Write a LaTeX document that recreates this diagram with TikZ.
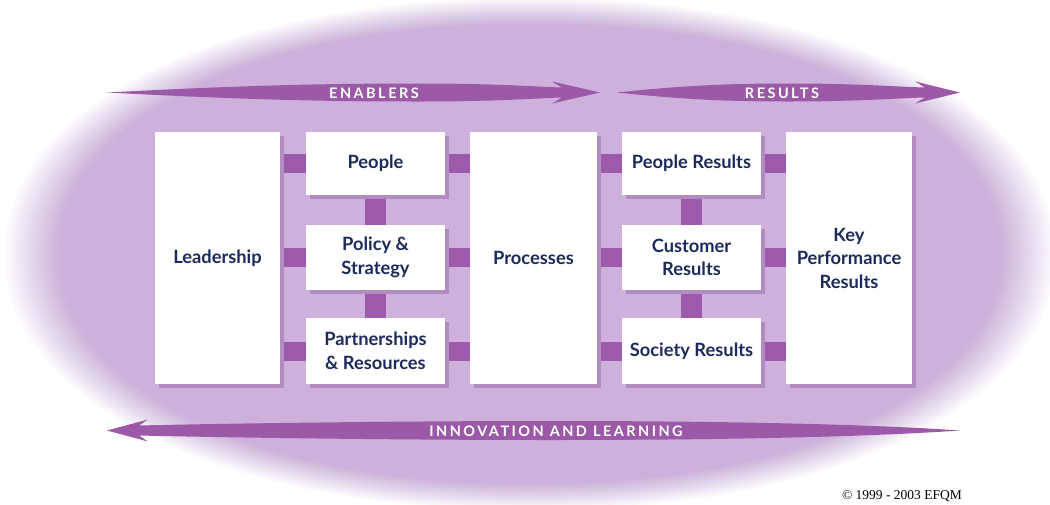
\documentclass[tikz,border=0pt]{standalone}
\usepackage{fontspec}
\setmainfont{Lato}
\newfontfamily\hdrfont[LetterSpace=17]{Lato}
\newfontfamily\cpyfont{Liberation Serif}
\usetikzlibrary{shadows}
\definecolor{lav}{RGB}{205,176,219}
\definecolor{arr}{RGB}{156,89,167}
\definecolor{barc}{RGB}{158,90,170}
\definecolor{shad}{RGB}{176,140,193}
\definecolor{navy}{RGB}{28,42,92}
\pgfdeclarelayer{bg}
\pgfdeclarelayer{barlayer}
\pgfsetlayers{bg,barlayer,main}
\tikzset{
  box/.style={fill=white, inner sep=0pt, outer sep=0pt, align=center, text=navy,
    font=\bfseries\fontsize{18.3}{23.5}\selectfont,
    drop shadow={shadow xshift=4pt, shadow yshift=-4pt, fill=shad, opacity=1}},
  hbar/.style={draw=barc, line width=19pt},
  vbar/.style={draw=barc, line width=21pt},
  hdr/.style={text=white, inner sep=0pt, font=\hdrfont\bfseries\fontsize{14.5}{14.5}\selectfont},
  bigarrow/.style={fill=arr}
}
\begin{document}
\begin{tikzpicture}[x=1pt,y=-1pt]
\useasboundingbox (0,0) rectangle (1050,504);
\begin{pgfonlayer}{bg}
\fill[white] (0,0) rectangle (1050,504);
\foreach \k in {1,...,20} {
  \pgfmathsetmacro\s{1-(\k-1)*0.105/19}
  \pgfmathsetmacro\op{1/(21-\k)}
  \fill[lav, fill opacity=\op] plot[domain=0:357, samples=120, smooth cycle]
    ({530+525*\s*sign(cos(\x))*pow(abs(cos(\x))+0.0001,0.95238)},
     {254+256*\s*sign(sin(\x))*pow(abs(sin(\x))+0.0001,0.95238)});
}
\end{pgfonlayer}

% big arrows
\fill[bigarrow] (107,92.5) .. controls (250,85) and (330,83.5) .. (420,83.5)
  .. controls (500,83.5) and (540,87) .. (562,87.5) -- (552,81.5) -- (600,92.5)
  -- (552,103.5) -- (562,97.5) .. controls (540,98) and (500,101.5) .. (420,101.5)
  .. controls (330,101.5) and (250,100) .. (107,92.5) -- cycle;
\fill[bigarrow] (617,92.5) .. controls (680,86) and (720,83.5) .. (790,83.5)
  .. controls (860,83.5) and (900,87) .. (925,87.5) -- (915,81.5) -- (960,92.5)
  -- (915,103.5) -- (925,97.5) .. controls (900,98) and (860,101.5) .. (790,101.5)
  .. controls (720,101.5) and (680,99) .. (617,92.5) -- cycle;
\fill[bigarrow] (107,430.5) -- (148,419.5) -- (139,425.5) .. controls (200,424) and (380,421) .. (550,421)
  .. controls (750,421) and (880,425) .. (960,430.5) .. controls (880,436) and (750,440) .. (550,440)
  .. controls (380,440) and (200,437) .. (139,435.5) -- (148,441.5) -- cycle;

\node[hdr] (en) at (374,93) {ENABLERS};
\node[hdr] (re) at (782,93) {RESULTS};
\node[hdr] (il) at (556,431) {INNOVATION AND LEARNING};

% boxes
\node[box, minimum width=125pt, minimum height=252pt] (lead) at (217.5,258) {Leadership};
\node[box, minimum width=139pt, minimum height=63pt] (ppl) at (375.5,163.5) {People};
\node[box, minimum width=139pt, minimum height=65pt] (pol) at (375.5,257.5) {Policy \&\\Strategy};
\node[box, minimum width=139pt, minimum height=66pt] (par) at (375.5,351) {Partnerships\\\& Resources};
\node[box, minimum width=127pt, minimum height=252pt] (proc) at (533.5,258) {Processes};
\node[box, minimum width=139pt, minimum height=63pt] (pr) at (691.5,163.5) {People Results};
\node[box, minimum width=139pt, minimum height=65pt] (cr) at (691.5,257.5) {Customer\\Results};
\node[box, minimum width=139pt, minimum height=66pt] (sr) at (691.5,351) {Society Results};
\node[box, minimum width=126pt, minimum height=252pt] (kpr) at (849,258) {Key\\Performance\\Results};

\begin{pgfonlayer}{barlayer}
\draw[hbar] (lead.east |- ppl.west) -- (ppl.west);
\draw[hbar] (lead.east |- pol.west) -- (pol.west);
\draw[hbar] (lead.east |- par.west) -- (par.west);
\draw[hbar] (ppl.east) -- (proc.west |- ppl.east);
\draw[hbar] (pol.east) -- (proc.west |- pol.east);
\draw[hbar] (par.east) -- (proc.west |- par.east);
\draw[hbar] (proc.east |- pr.west) -- (pr.west);
\draw[hbar] (proc.east |- cr.west) -- (cr.west);
\draw[hbar] (proc.east |- sr.west) -- (sr.west);
\draw[hbar] (pr.east) -- (kpr.west |- pr.east);
\draw[hbar] (cr.east) -- (kpr.west |- cr.east);
\draw[hbar] (sr.east) -- (kpr.west |- sr.east);
\draw[vbar] (ppl.south) -- (pol.north);
\draw[vbar] (pol.south) -- (par.north);
\draw[vbar] (pr.south) -- (cr.north);
\draw[vbar] (cr.south) -- (sr.north);
\end{pgfonlayer}

\node[anchor=base east, inner sep=0pt, font=\cpyfont\fontsize{13.5}{14}\selectfont] (cpy) at (962,499) {© 1999 - 2003 EFQM};
\end{tikzpicture}
\end{document}
